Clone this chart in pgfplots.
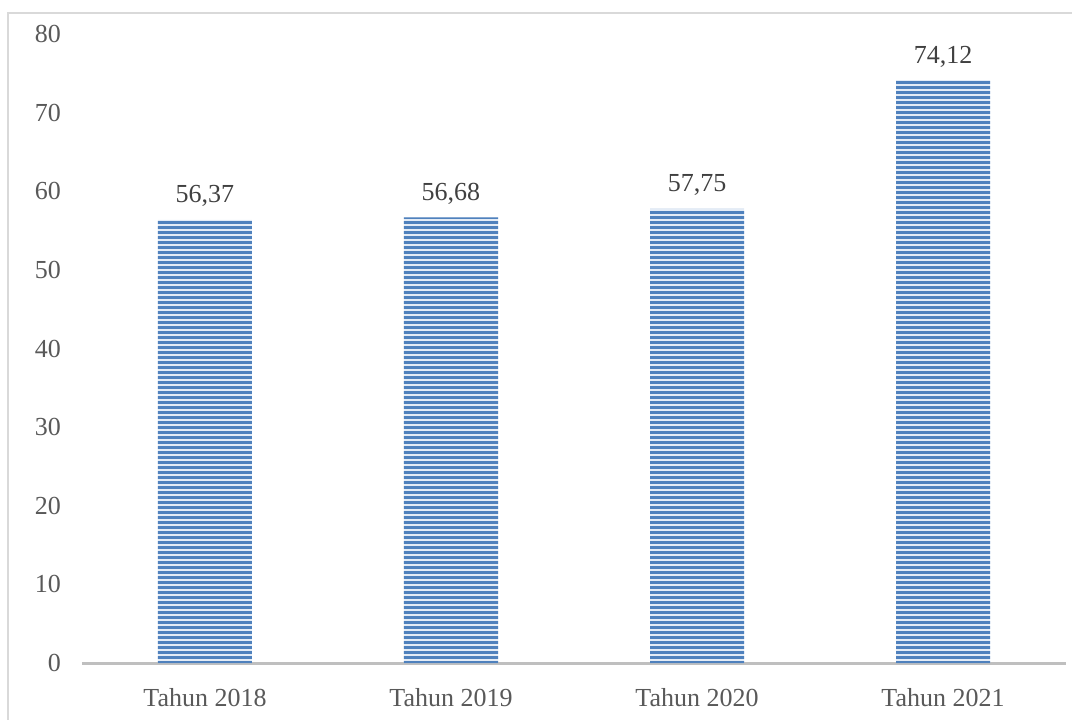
\documentclass[border=0pt]{standalone}
\usepackage{fontspec}
\setmainfont{Liberation Serif}
\usepackage{pgfplots}
\pgfplotsset{compat=1.18}
\usetikzlibrary{patterns.meta}
\definecolor{barblue}{HTML}{4F81BD}
\definecolor{barlight}{HTML}{E4ECF6}
\definecolor{axisgray}{HTML}{BFBFBF}
\definecolor{txtgray}{HTML}{595959}
\definecolor{lblgray}{HTML}{404040}
\definecolor{framegray}{HTML}{D9D9D9}
\tikzdeclarepattern{name=hstripes, type=uncolored,
  bounding box={(-300pt,0pt) and (600pt,2.5pt)},
  tile size={(900pt,2.5pt)},
  code={\fill (-300pt,0pt) rectangle (600pt,1.4pt);}}
\begin{document}
\begin{tikzpicture}[x=1pt,y=1pt]
\useasboundingbox (-41,-28) rectangle (495,331.5);
\draw[framegray, line width=0.75pt] (-37,-40) -- (-37,325) -- (520,325);
\begin{axis}[
  at={(0pt,0pt)}, anchor=south west,
  scale only axis, width=492pt, height=314.5pt,
  xmin=-0.5, xmax=3.5, ymin=0, ymax=80,
  axis lines*=left,
  x axis line style={axisgray, line width=1.5pt},
  y axis line style={draw=none},
  major tick length=0pt,
  ytick={0,10,...,80},
  xtick={0,1,2,3},
  xticklabels={Tahun 2018, Tahun 2019, Tahun 2020, Tahun 2021},
  /pgf/number format/assume math mode=true,
  yticklabel style={txtgray, font=\fontsize{13}{15}\selectfont, anchor=east, xshift=-7pt},
  xticklabel style={txtgray, font=\fontsize{13}{15}\selectfont, yshift=-9pt},
  clip=false,
  ybar, bar width=47pt,
  nodes near coords={\pgfmathprintnumber[fixed, fixed zerofill, precision=2, use comma]{\pgfplotspointmeta}},
  every node near coord/.append style={lblgray, font=\fontsize{13}{15}\selectfont, yshift=3pt},
]
\addplot[fill=barlight, draw=none, postaction={pattern=hstripes, pattern color=barblue}]
  coordinates {(0,56.37) (1,56.68) (2,57.75) (3,74.12)};
\end{axis}
\end{tikzpicture}
\end{document}
